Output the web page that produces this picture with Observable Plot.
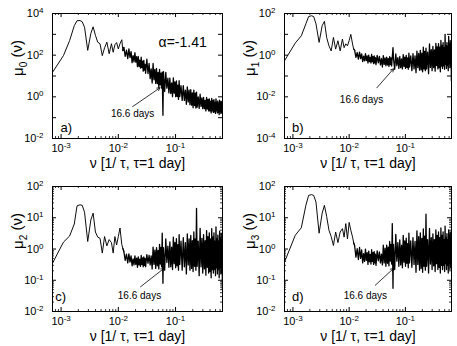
<!DOCTYPE html>
<html><head><meta charset="utf-8">
<script src="https://cdn.jsdelivr.net/npm/d3@7"></script>
<script src="https://cdn.jsdelivr.net/npm/@observablehq/plot@0.6"></script>
<style>
body{margin:0;background:#fff;}
#chart{position:relative;width:457px;height:346px;background:#fff;font-family:"Liberation Sans",Arial,sans-serif;}
#chart svg{position:absolute;overflow:visible;}
</style></head><body><div id="chart"></div>
<script>
// frequency (1/day)
const nu = [0.000708,0.0011,0.00141,0.0017,0.0019,0.00214,0.00234,0.00257,0.00292,0.00331,0.00363,0.00398,0.00437,0.00479,0.00525,0.00575,0.00631,0.00692,0.00759,0.00813,0.00871,0.00933,0.01,0.0107,0.0115,0.012,
0.0125,0.0132,0.0139,0.0146,0.0153,0.016,0.0167,0.0174,0.0181,0.0188,0.0195,0.0202,0.0209,0.0216,0.0223,0.023,0.0237,0.0244,0.0251,0.0258,0.0265,0.0272,0.0279,0.0286,0.0293,0.03,
0.0315,0.033,0.0345,0.036,0.0375,0.039,0.0405,0.042,0.0435,0.045,0.0465,0.048,0.0495,0.051,0.0525,0.054,0.0555,0.057,0.0585,0.0602,
0.0615,0.0645,0.0675,0.0705,0.0735,0.0765,0.0795,0.0825,0.0855,0.0885,0.0915,0.0945,0.0975,0.1005,0.1035,0.1065,0.1095,0.1125,0.1155,0.1185,
0.1245,0.1305,0.1365,0.1425,0.1485,0.1545,0.1605,0.1665,0.1725,0.1785,0.1845,0.1905,0.1965,0.2025,0.2085,0.2145,0.2205,0.2265,0.2325,0.2385,
0.2485,0.2585,0.2685,0.2785,0.2885,0.2985,0.3085,0.3185,0.3285,0.3385,0.3485,0.3585,0.3685,0.3785,0.3885,0.3985,0.4085,0.4185,0.4285,0.4385,0.4485,0.4585,0.4685,0.4785,0.4885,0.4985,0.5085,0.5185,0.5285,0.5385,0.5485,0.5585,0.5685,0.5785,0.5885,0.5985,0.6085,0.6185,0.6285,0.6385,0.6485,0.6585];

const mu0 = [15,95,500,2600,4500,4600,4000,2200,170,1100,2300,900,420,350,95,225,420,117,355,138,316,400,200,355,550,166,
237,87,172,68,202,77,149,44,95,48,131,46,84,28,87,29,58,24,80,25,51,17,56,19,36,13.5,
64,13.1,40,7.5,22,4.6,40,6.6,21,4.4,23,4.3,14.7,2.8,20.8,3.8,13.8,2.6,15.4,0.13,
16,1.8,15,2.6,7.8,1.54,7.8,1.44,4.7,1.02,8.0,1.5,5.2,1.02,5.8,1.03,3.6,0.75,5.9,1.03,
3.4,0.67,3.4,0.67,2.1,0.44,3.0,0.57,2.1,0.42,2.2,0.4,1.55,0.3,2.1,0.38,1.5,0.29,1.7,0.32,
0.99,0.28,1.34,0.35,0.89,0.27,0.93,0.27,0.68,0.21,0.94,0.26,0.75,0.21,0.8,0.21,0.62,0.17,0.83,0.21,0.65,0.18,0.74,0.19,0.54,0.16,0.8,0.21,0.56,0.17,0.63,0.18,0.49,0.14,0.69,0.2,0.56,0.16,0.61,0.17,0.5,0.26];

const mu1 = [0.54,3.8,8.5,32,71,78,71,32,4.1,26,42,7.1,2.8,1.6,7.1,1.95,4.9,1.6,5.9,2.3,3.5,2.8,5.0,10,3.4,2.0,
1.75,0.79,1.34,0.64,1.41,0.68,1.15,0.49,0.9,0.53,1.19,0.55,0.92,0.42,1.0,0.49,0.79,0.42,1.08,0.49,0.86,0.39,0.91,0.43,0.76,0.35,
0.98,0.43,0.87,0.34,0.69,0.27,0.96,0.36,0.73,0.31,0.81,0.34,0.68,0.29,0.86,0.35,0.73,0.30,0.81,2.3,
0.69,0.21,1.16,0.31,0.76,0.23,0.87,0.25,0.66,0.22,1.07,0.29,0.81,0.23,0.98,0.26,0.73,0.21,1.24,0.27,
0.91,0.18,1.18,0.22,0.92,0.145,1.57,0.25,1.2,0.19,1.7,0.195,1.24,0.16,2.4,0.22,1.53,0.18,2.2,0.22,
1.41,0.13,3.5,0.26,1.86,0.18,2.6,0.25,1.78,0.17,3.7,0.32,2.5,0.22,3.6,0.25,2.45,0.16,5.1,0.3,2.96,0.23,4.0,0.31,2.3,0.21,10,0.36,2.9,0.23,4.0,0.32,2.6,0.18,8,0.38,3.6,0.25,5.0,0.29,3.2,0.06];

const mu2 = [0.35,1.66,2.6,6.3,24,26,25,15,1.74,8.5,14,3.5,2.4,2.2,0.74,2.5,1.26,2.0,1.6,0.74,2.5,1.35,2.5,4.7,1.4,1.05,
0.83,0.43,0.68,0.36,0.7,0.38,0.6,0.29,0.48,0.31,0.6,0.32,0.51,0.26,0.56,0.31,0.47,0.28,0.62,0.32,0.52,0.27,0.56,0.3,0.5,0.27,
0.66,0.35,0.63,0.31,0.6,0.23,1.15,0.32,0.92,0.24,1.11,0.29,0.91,0.23,1.4,0.33,1.12,0.27,3.2,0.08,
1.1,0.21,2.1,0.37,1.24,0.26,1.7,0.27,1.14,0.22,2.4,0.34,1.62,0.25,2.15,0.29,1.39,0.21,2.9,0.32,
1.78,0.21,2.3,0.27,1.6,0.16,3.05,0.31,2.1,0.21,2.7,0.24,1.84,0.19,3.5,0.28,2.1,0.21,20,0.28,
1.79,0.14,4.6,0.27,2.2,0.17,2.9,0.23,1.84,0.145,3.9,0.26,2.5,0.17,3.3,0.19,2.1,0.12,4.5,0.22,2.45,0.17,3.3,0.22,1.78,0.14,5.1,0.25,2.1,0.16,2.8,0.22,1.78,0.12,3.7,0.25,2.3,0.16,3.2,0.18,2.0,0.05];

const mu3 = [0.38,2.75,4.8,25,52,55,52,32,3.2,14,25,11,4.0,2.5,1.3,3.5,1.6,3.5,4.5,2.4,6.5,2.1,7.1,4.0,2.4,1.6,
1.29,0.55,1.02,0.46,1.12,0.5,0.93,0.36,0.71,0.4,0.99,0.43,0.77,0.32,0.86,0.39,0.67,0.33,0.95,0.4,0.76,0.32,0.83,0.36,0.69,0.3,
0.87,0.42,0.81,0.36,0.69,0.31,1.32,0.36,1.06,0.28,1.33,0.35,1.14,0.29,1.74,0.41,1.4,0.33,6.5,0.055,
1.41,0.22,2.95,0.41,1.6,0.28,1.97,0.31,1.32,0.25,2.7,0.38,1.82,0.28,2.24,0.35,1.48,0.25,3.2,0.36,
1.82,0.26,2.3,0.32,1.76,0.18,3.8,0.32,2.5,0.21,3.3,0.24,2.2,0.18,4.4,0.28,2.6,0.21,13,0.28,
2.0,0.17,4.6,0.33,2.3,0.22,3.05,0.29,2.0,0.19,4.1,0.34,2.7,0.22,3.5,0.26,2.3,0.17,4.7,0.3,2.7,0.22,3.5,0.3,2.0,0.19,5.4,0.34,2.3,0.22,3.1,0.3,2.0,0.17,4.1,0.34,2.7,0.22,3.5,0.26,2.3,0.3];

const series = [mu0, mu1, mu2, mu3];
const subscripts = ["0", "1", "2", "3"];
const letters = ["a)", "b)", "c)", "d)"];
const xDomain = [0.000708, 0.661];
const xLabelTicks = [1e-3, 1e-2, 1e-1];
const yDomains = [[1e-2, 1e4], [1e-4, 1e2], [1e-2, 1e2], [1e-2, 1e2]];
const yLabelTicks = [[1e-2, 1, 1e2, 1e4], [1e-4, 1e-2, 1, 1e2], [1e-2, 1e-1, 1, 1e1, 1e2], [1e-2, 1e-1, 1, 1e1, 1e2]];
const periodDays = 16.6;
const alphaText = "α=-1.41";
const xTitle = "ν [1/ τ, τ=1 day]";
// annotation anchors (data space)
const noteText = [[0.0178, 0.158], [0.0166, 0.0074], [0.0234, 0.0324], [0.0194, 0.0324]];
const noteTail = [[0.0178, 0.34], [0.0311, 0.0271], [0.0244, 0.0616], [0.0292, 0.0695]];
const noteHead = [[0.0533, 2.7], [0.0616, 0.221], [0.0624, 0.238], [0.0616, 0.238]];
const letterPos = [[0.00098, 0.034], [0.00096, 3.4e-4], [0.00079, 0.030], [0.00096, 0.030]];
const alphaPos = [0.0505, 417];

const layout = [
  {left: 0, top: 0, ml: 52, w: 170},
  {left: 228, top: 0, ml: 56, w: 167},
  {left: 0, top: 173, ml: 52, w: 170},
  {left: 228, top: 173, ml: 56, w: 167}
];
const H = 173, MT = 13, MB = 35, MR = 6, BH = H - MT - MB;
const isDecade = v => Math.abs(Math.log10(v) - Math.round(Math.log10(v))) < 1e-9;
const fmt = d => "10^" + Math.round(Math.log10(d));

function decorate(svg) {
  d3.select(svg).selectAll("text").each(function () {
    const t = this.textContent;
    const s = d3.select(this);
    if (t.includes("^")) {
      const [b, e] = t.split("^");
      s.text(null);
      s.append("tspan").text(b);
      s.append("tspan").attr("dy", "-0.5em").attr("font-size", "8px").text(e);
    } else if (t.includes("_")) {
      const m = t.match(/^(.*)_(\d)(.*)$/);
      s.text(null);
      s.append("tspan").text(m[1]);
      s.append("tspan").attr("dy", "0.35em").attr("font-size", "10px").text(m[2]);
      s.append("tspan").attr("dy", "-0.35em").text(m[3]);
    }
  });
}

const chart = document.getElementById("chart");
const xAll = d3.scaleLog().domain(xDomain).ticks();
const xDec = xAll.filter(isDecade);
const xMinor = xAll.filter(v => !isDecade(v));

layout.forEach((L, i) => {
  const W = L.w;
  const data = nu.map((v, k) => ({nu: v, mu: series[i][k]}));
  const yAll = d3.scaleLog().domain(yDomains[i]).ticks();
  const yDec = yAll.filter(isDecade);
  const yMinor = i >= 2 ? yAll.filter(v => !isDecade(v)) : [];
  const marks = [
    Plot.line(data.slice(0, 27), {x: "nu", y: "mu", stroke: "#000", strokeWidth: 0.95, clip: true}),
    Plot.line(data.slice(25), {x: "nu", y: "mu", stroke: "#000", strokeWidth: 1.3, clip: true}),
    Plot.ruleX(xDec, {insetTop: BH - 4, stroke: "#000"}),
    Plot.ruleX(xDec, {insetBottom: BH - 4, stroke: "#000"}),
    Plot.ruleX(xMinor, {insetTop: BH - 2, stroke: "#000", strokeWidth: 0.8}),
    Plot.ruleX(xMinor, {insetBottom: BH - 2, stroke: "#000", strokeWidth: 0.8}),
    Plot.ruleY(yDec, {insetRight: W - 4, stroke: "#000"}),
    Plot.ruleY(yDec, {insetLeft: W - 4, stroke: "#000"}),
    Plot.ruleY(yMinor, {insetRight: W - 2, stroke: "#000", strokeWidth: 0.8}),
    Plot.ruleY(yMinor, {insetLeft: W - 2, stroke: "#000", strokeWidth: 0.8}),
    Plot.frame({stroke: "#000", strokeWidth: 1}),
    Plot.axisX({ticks: xLabelTicks, anchor: "bottom", tickSize: 0, tickPadding: 6, tickFormat: fmt, fontSize: 11, label: null}),
    Plot.axisY({ticks: yLabelTicks[i], anchor: "left", tickSize: 0, tickPadding: 9, tickFormat: fmt, fontSize: 11, label: null}),
    Plot.text([xTitle], {frameAnchor: "bottom", dy: 29.5, fontSize: 14, fill: "#000"}),
    Plot.text([`μ_${subscripts[i]} (ν)`], {frameAnchor: "left", dx: -34, rotate: -90, fontSize: 15, fill: "#000"}),
    Plot.text([letters[i]], {x: letterPos[i][0], y: letterPos[i][1], textAnchor: "start", fontSize: 13, fill: "#000"}),
    Plot.arrow([0], {x1: noteTail[i][0], y1: noteTail[i][1], x2: noteHead[i][0], y2: noteHead[i][1], stroke: "#000", strokeWidth: 0.8, headLength: 6}),
    Plot.text([`${periodDays} days`], {x: noteText[i][0], y: noteText[i][1], fontSize: 10, fill: "#000"})
  ];
  if (i === 0) marks.push(Plot.text([alphaText], {x: alphaPos[0], y: alphaPos[1], textAnchor: "start", fontSize: 14, fill: "#000"}));
  const svg = Plot.plot({
    width: L.ml + W + MR, height: H,
    marginLeft: L.ml, marginRight: MR, marginTop: MT, marginBottom: MB,
    x: {type: "log", domain: xDomain, label: null},
    y: {type: "log", domain: yDomains[i], label: null},
    style: {fontFamily: "'Liberation Sans', Arial, sans-serif", background: "transparent", color: "#000"},
    marks
  });
  decorate(svg);
  svg.style.left = L.left + "px";
  svg.style.top = L.top + "px";
  chart.appendChild(svg);
});
</script></body></html>
